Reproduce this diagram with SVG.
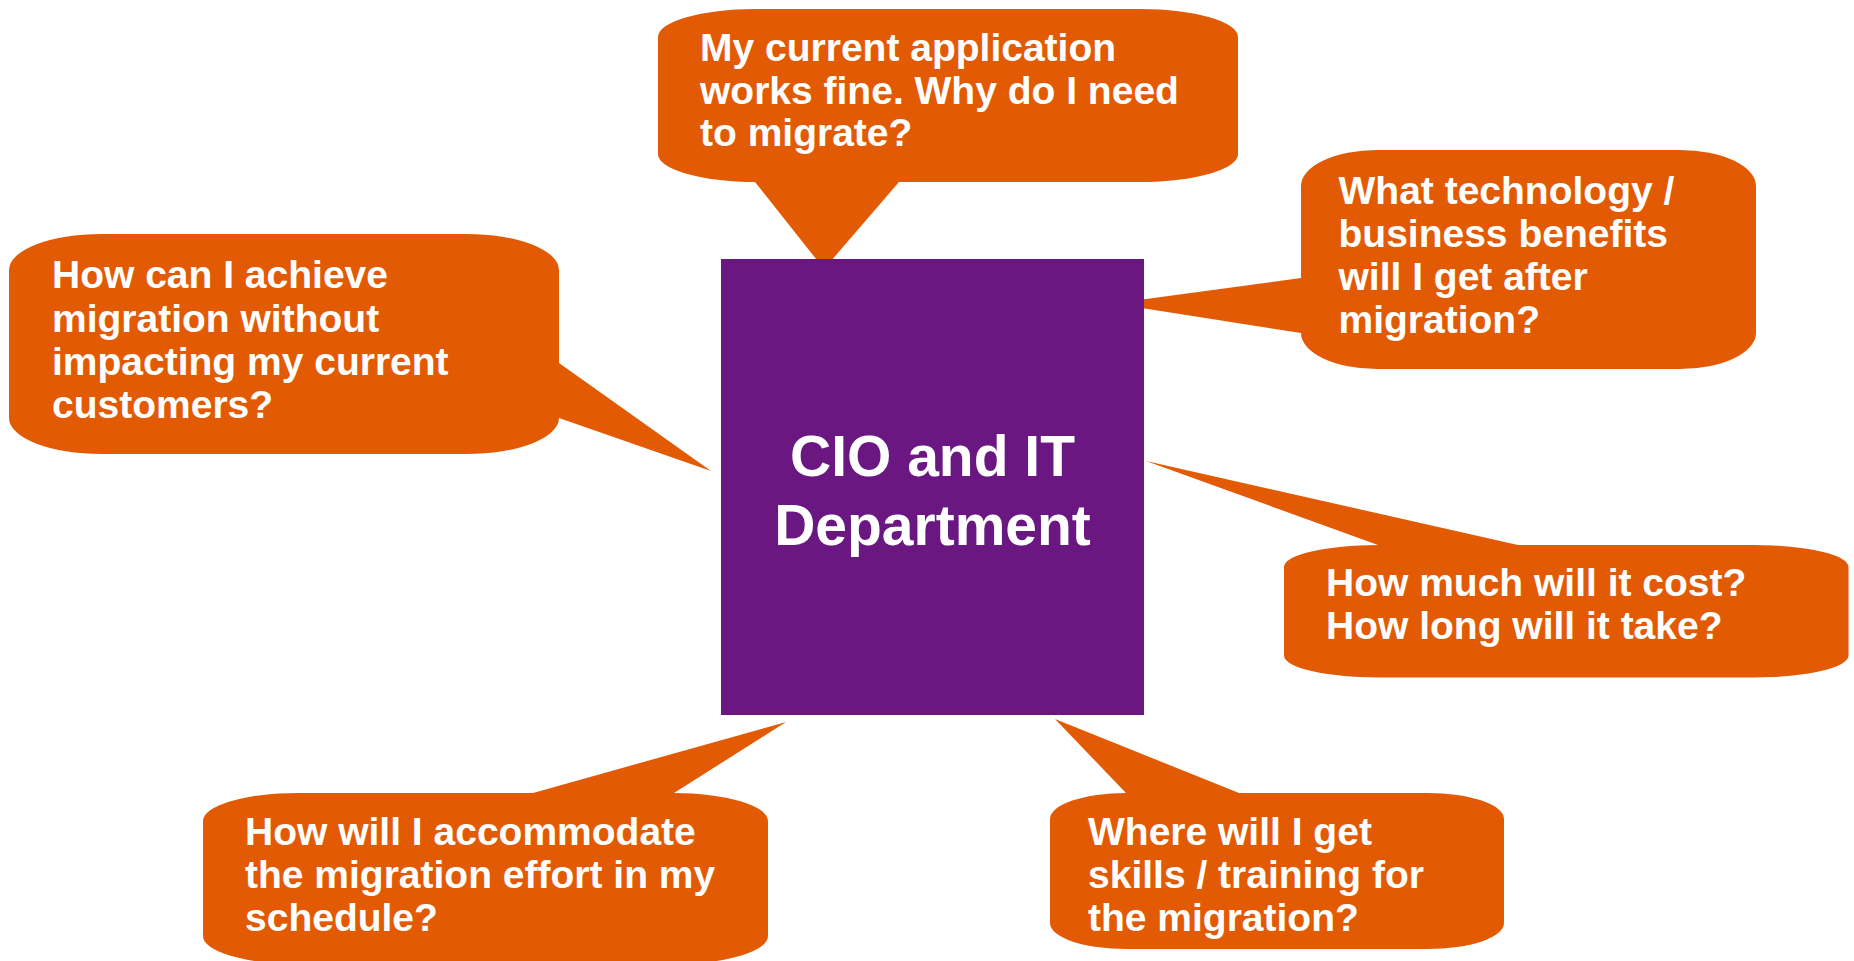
<svg xmlns="http://www.w3.org/2000/svg" width="1854" height="961" viewBox="0 0 1854 961">
<style>
.bubble{fill:#E35A04}
.q{font-family:"Liberation Sans",Arial,sans-serif;font-weight:bold;font-size:39px;fill:#ffffff}
.center{font-family:"Liberation Sans",Arial,sans-serif;font-weight:bold;font-size:57px;fill:#ffffff;text-anchor:middle}
</style>
<rect width="1854" height="961" fill="#ffffff"/>
<g id="q-top">
<path class="bubble" d="M755 9 H1141 A97 28 0 0 1 1238 37 V154 A97 28 0 0 1 1141 182 H899 L824 269 L755 182 H755 A97 28 0 0 1 658 154 V37 A97 28 0 0 1 755 9 Z"/>
<text class="q" x="700" y="61">My current application</text>
<text class="q" x="700" y="103.5">works fine. Why do I need</text>
<text class="q" x="700" y="146">to migrate?</text>
</g>
<g id="q-left">
<path class="bubble" d="M101 234 H467 A92 36 0 0 1 559 270 V363 L711 471 L559 418 A92 36 0 0 1 467 454 H101 A92 36 0 0 1 9 418 V270 A92 36 0 0 1 101 234 Z"/>
<text class="q" x="52" y="288.3">How can I achieve</text>
<text class="q" x="52" y="331.5">migration without</text>
<text class="q" x="52" y="374.7">impacting my current</text>
<text class="q" x="52" y="418">customers?</text>
</g>
<g id="q-right-top">
<path class="bubble" d="M1377 150 H1680 A76 36 0 0 1 1756 186 V333 A76 36 0 0 1 1680 369 H1377 A76 36 0 0 1 1301 333 L1113 303.5 L1301 278 V186 A76 36 0 0 1 1377 150 Z"/>
<text class="q" x="1338.5" y="204.4">What technology /</text>
<text class="q" x="1338.5" y="247.3">business benefits</text>
<text class="q" x="1338.5" y="290.2">will I get after</text>
<text class="q" x="1338.5" y="333">migration?</text>
</g>
<g id="q-right-bottom">
<path class="bubble" d="M1378 545 L1146 461 L1518 545 H1754.5 A94 22 0 0 1 1848.5 567 V655.5 A94 22 0 0 1 1754.5 677.5 H1378 A94 22 0 0 1 1284 655.5 V567 A94 22 0 0 1 1378 545 Z"/>
<text class="q" x="1326" y="595.7">How much will it cost?</text>
<text class="q" x="1326" y="638.6">How long will it take?</text>
</g>
<g id="q-bottom-left">
<path class="bubble" d="M297 793 H533 L786 722 L674 793 H674 A94 28 0 0 1 768 821 V936 A94 28 0 0 1 674 964 H297 A94 28 0 0 1 203 936 V821 A94 28 0 0 1 297 793 Z"/>
<text class="q" x="245" y="845.2">How will I accommodate</text>
<text class="q" x="245" y="888">the migration effort in my</text>
<text class="q" x="245" y="931">schedule?</text>
</g>
<g id="q-bottom-right">
<path class="bubble" d="M1126 793 L1055 719 L1239 793 H1428 A76 26 0 0 1 1504 819 V923 A76 26 0 0 1 1428 949 H1126 A76 26 0 0 1 1050 923 V819 A76 26 0 0 1 1126 793 Z"/>
<text class="q" x="1088" y="845.2">Where will I get</text>
<text class="q" x="1088" y="888">skills / training for</text>
<text class="q" x="1088" y="931">the migration?</text>
</g>
<g id="connectors"></g>
<g id="cio">
<rect x="721" y="259" width="423" height="456" fill="#6A1782"/>
<text class="center" x="932.5" y="476">CIO and IT</text>
<text class="center" x="932.5" y="545">Department</text>
</g>
</svg>
